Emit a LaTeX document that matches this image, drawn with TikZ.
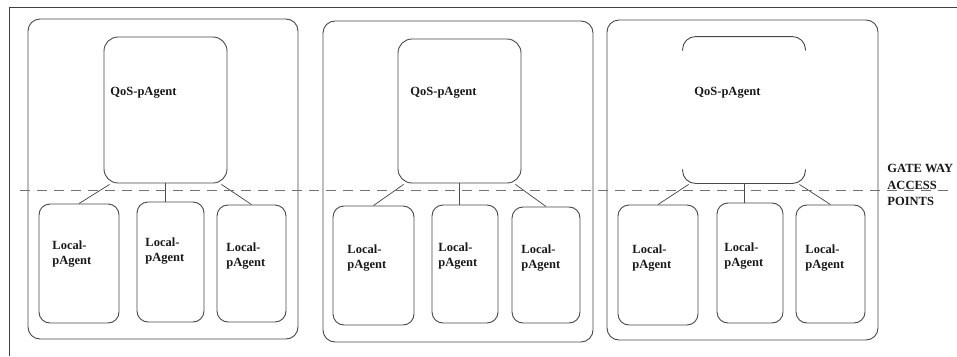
\documentclass[tikz,border=0pt]{standalone}
\usepackage{fontspec}
\setmainfont{Liberation Serif}
\begin{document}
\begin{tikzpicture}[x=1pt,y=-1pt,
  line width=0.9pt,
  group/.style={draw=black!72, rounded corners=12pt, minimum width=270pt, minimum height=320pt, inner sep=0pt},
  qos/.style={draw=black!72, rounded corners=14pt, minimum width=123pt, minimum height=146pt, inner sep=0pt},
  qosopen/.style={minimum width=122pt, minimum height=146pt, inner sep=0pt},
  local/.style={draw=black!72, rounded corners=11pt, inner sep=0pt},
  lbl/.style={anchor=west, align=left, font=\fontsize{12.5}{15}\selectfont\bfseries, inner sep=0pt, text=black!90},
  link/.style={draw=black!70, line width=0.75pt},
  gateway/.style={draw=black!55, line width=1.2pt, dash pattern=on 10pt off 7pt}]
\useasboundingbox (0,0) rectangle (957,356);
\fill[white] (0,0) rectangle (957,356);

% page frame (top and left edges)
\draw[black!75] (957,7) -- (9,7) -- (9,356);

% three groups
\node[group] (g1) at (163,179) {};
\node[group, minimum height=321pt] (g2) at (458,181.5) {};
\node[group, minimum width=271pt] (g3) at (742.5,180) {};

% QoS agents
\node[qos] (q1) at (165.5,110) {};
\node[qos, minimum height=144pt] (q2) at (459.5,111) {};
\node[qosopen] (q3) at (744,110) {};
\draw[draw=black!72, rounded corners=13pt]
  ([yshift=-14pt]q3.north west) -- (q3.north west) -- (q3.north east) -- ([yshift=-14pt]q3.north east);
\draw[draw=black!72, rounded corners=13pt]
  ([yshift=14pt]q3.south west) -- (q3.south west) -- (q3.south east) -- ([yshift=14pt]q3.south east);

% local agents
\node[local, minimum width=80pt, minimum height=119pt] (l11) at (79,263.5) {};
\node[local, minimum width=67pt, minimum height=120pt] (l12) at (170.5,262) {};
\node[local, minimum width=69pt, minimum height=117pt] (l13) at (251.5,263.5) {};
\node[local, minimum width=81pt, minimum height=119pt] (l21) at (373.5,265.5) {};
\node[local, minimum width=66pt, minimum height=118pt] (l22) at (465,264) {};
\node[local, minimum width=68pt, minimum height=116pt] (l23) at (546,265) {};
\node[local, minimum width=80pt, minimum height=120pt] (l31) at (658,265) {};
\node[local, minimum width=66pt, minimum height=120pt] (l32) at (750,263) {};
\node[local, minimum width=69pt, minimum height=118pt] (l33) at (830.5,264) {};

% links from each QoS agent to its local agents
\foreach \g in {1,2,3}{
  \draw[link] ([xshift=6pt,yshift=-1pt]q\g.south west) -- (l\g1.north);
  \draw[link] (q\g.south) -- (q\g.south |- l\g2.north);
  \draw[link] ([xshift=-6pt,yshift=-1pt]q\g.south east) -- (l\g3.north);
}

% gateway access line
\coordinate (gwA) at (20,190.5);
\coordinate (gwB) at (952,190.5);
\draw[gateway] (gwA) -- (gwB);

% labels
\node[lbl] (tq1) at (110,93) {QoS-pAgent};
\node[lbl] (tq2) at (410,93) {QoS-pAgent};
\node[lbl] (tq3) at (694,93) {QoS-pAgent};

\node[lbl] (t11) at (52,254) {Local-\\pAgent};
\node[lbl] (t12) at (145,251) {Local-\\pAgent};
\node[lbl] (t13) at (226,256) {Local-\\pAgent};
\node[lbl] (t21) at (347,258) {Local-\\pAgent};
\node[lbl] (t22) at (438,256) {Local-\\pAgent};
\node[lbl] (t23) at (521,258) {Local-\\pAgent};
\node[lbl] (t31) at (632,258) {Local-\\pAgent};
\node[lbl] (t32) at (724,256) {Local-\\pAgent};
\node[lbl] (t33) at (805,258) {Local-\\pAgent};

\node[lbl, font=\fontsize{12.5}{16.5}\selectfont\bfseries] (tgw) at (887,185) {GATE WAY\\ACCESS\\POINTS};
\end{tikzpicture}
\end{document}
